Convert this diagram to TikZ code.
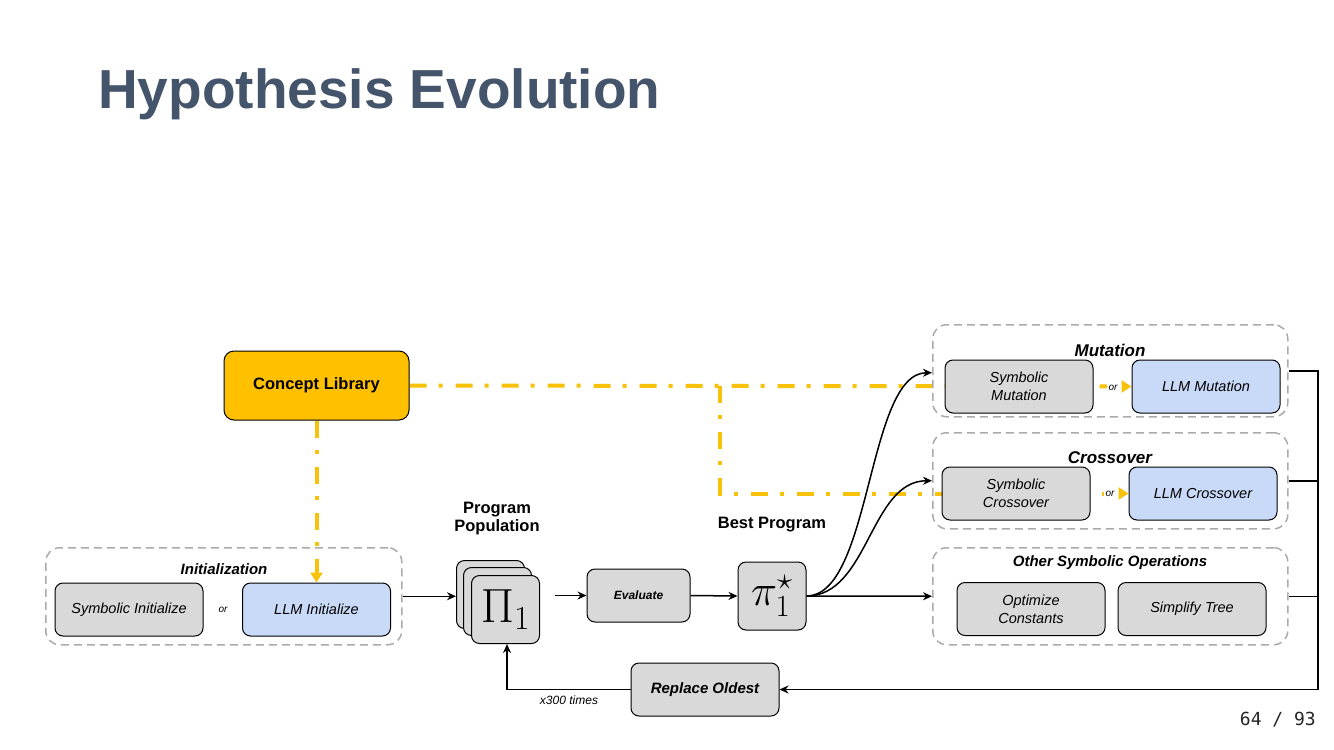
\RequirePackage{fix-cm}
\documentclass[tikz,border=0pt]{standalone}
\usepackage[no-math]{fontspec}
\setmainfont{Liberation Sans}
\newfontfamily\pagenumfont{DejaVu Sans Mono}
\usetikzlibrary{arrows.meta}

\definecolor{titleblue}{HTML}{44546A}
\definecolor{conceptyellow}{HTML}{FFC000}
\definecolor{linkyellow}{HTML}{F8C10A}
\definecolor{boxgray}{HTML}{D9D9D9}
\definecolor{boxblue}{HTML}{C9DAF8}
\definecolor{groupgray}{HTML}{ABABAB}

\pgfdeclarelayer{bg}
\pgfsetlayers{bg,main}

\tikzset{
  opbox/.style={draw=black, line width=1pt, rounded corners=8pt,
    minimum width=148pt, minimum height=53pt, inner sep=0pt, align=center,
    font=\fontsize{14.5}{18}\selectfont\itshape},
  graybox/.style={opbox, fill=boxgray},
  bluebox/.style={opbox, fill=boxblue},
  opgroup/.style={draw=groupgray, line width=1.5pt, dash pattern=on 8pt off 5pt,
    rounded corners=14pt, inner sep=0pt, anchor=north west},
  grouptitle/.style={font=\fontsize{15}{18}\selectfont\bfseries\itshape, inner sep=0pt},
  ortext/.style={font=\fontsize{10}{12}\selectfont\itshape, fill=white, inner sep=2pt},
  flow/.style={line width=1.5pt, -{Stealth[length=9pt,width=8pt]}},
  plainline/.style={line width=1.5pt},
  conceptlink/.style={draw=linkyellow, line width=4pt,
    dash pattern=on 17pt off 12pt on 4pt off 13pt},
  conceptarrow/.style={conceptlink, -{Triangle[length=10pt,width=12pt]}},
  card/.style={draw=black, line width=1pt, fill=boxgray, rounded corners=8pt,
    minimum width=68pt, minimum height=68pt, inner sep=0pt, anchor=north west},
  headtext/.style={font=\fontsize{16.5}{18}\selectfont\bfseries, align=center},
}

\begin{document}
\begin{tikzpicture}[x=1pt,y=-1pt]
  \begin{pgfonlayer}{bg}
    \fill[white] (0,0) rectangle (1334,750);
  \end{pgfonlayer}
  \useasboundingbox (0,0) rectangle (1334,750);

  % slide title and page counter
  \node[anchor=base west, inner sep=0pt, text=titleblue,
        font=\fontsize{55}{60}\selectfont\bfseries] (title) at (98,108) {Hypothesis Evolution};
  \node[anchor=east, inner sep=0pt, text=black!85,
        font=\pagenumfont\fontsize{18}{20}\selectfont] (pagenum) at (1316,720) {64 / 93};

  % concept library
  \node[draw=black, line width=1pt, fill=conceptyellow, rounded corners=10pt,
        minimum width=185pt, minimum height=69pt, inner sep=0pt,
        font=\fontsize{16.5}{18}\selectfont\bfseries] (concept) at (316.5,385.5) {Concept Library};

  % initialization group
  \node[opgroup, minimum width=356pt, minimum height=97pt] (initgrp) at (45,547) {};
  \node[grouptitle] (inittitle) at (224,569) {Initialization};
  \node[graybox] (syminit) at (129,609.5) {Symbolic Initialize};
  \node[bluebox] (llminit) at (316.5,609.5) {LLM Initialize};
  \node[ortext] (orinit) at (223,610) {or};

  % program population
  \node[headtext] (poplabel) at (497,519) {Program\\Population};
  \node[card] (card3) at (456,560) {};
  \node[card] (card2) at (463,567) {};
  \node[card, font=\fontsize{48}{48}\selectfont] (card1) at (471,575) {$\Pi_1$};

  % evaluation and best program
  \node[graybox, minimum width=103pt, font=\fontsize{12}{14}\selectfont\bfseries\itshape]
        (eval) at (638.5,595.5) {Evaluate};
  \node[headtext] (bestlabel) at (772,525) {Best Program};
  \node[graybox, minimum width=68pt, minimum height=68pt, font=\fontsize{44}{44}\selectfont]
        (best) at (772,596) {$\pi_1^{\star}$};

  % mutation group
  \node[opgroup, minimum width=355pt, minimum height=92pt] (mutgrp) at (932,324) {};
  \node[grouptitle, font=\fontsize{17}{18}\selectfont\bfseries\itshape] (muttitle) at (1110,350) {Mutation};
  \node[graybox] (symmut) at (1019,386.5) {Symbolic\\Mutation};
  \node[bluebox] (llmmut) at (1206,386.5) {LLM Mutation};

  % crossover group
  \node[opgroup, minimum width=355pt, minimum height=96pt] (crossgrp) at (932,432) {};
  \node[grouptitle, font=\fontsize{17}{18}\selectfont\bfseries\itshape] (crosstitle) at (1110,458) {Crossover};
  \node[graybox] (symcross) at (1016,493.5) {Symbolic\\Crossover};
  \node[bluebox] (llmcross) at (1203,493.5) {LLM Crossover};

  % other symbolic operations group
  \node[opgroup, minimum width=355pt, minimum height=97pt] (othgrp) at (932,547) {};
  \node[grouptitle] (othtitle) at (1110,563) {Other Symbolic Operations};
  \node[graybox] (optconst) at (1031,609) {Optimize\\Constants};
  \node[graybox] (simptree) at (1192,609) {Simplify Tree};

  % replacement step
  \node[graybox, font=\fontsize{15}{18}\selectfont\bfseries\itshape] (replace) at (705,689.5) {Replace Oldest};
  \node[font=\fontsize{12}{14}\selectfont\itshape, inner sep=0pt] (times) at (569,700) {x300 times};

  % concept library links, drawn behind the boxes
  \coordinate (split) at (720,386);
  \coordinate (rail) at (1318,689.5);
  \begin{pgfonlayer}{bg}
    \draw[conceptarrow] (concept.south) -- (llminit.north);
    \draw[conceptarrow] (concept.east) -- (llmmut.west);
    \draw[conceptarrow] (split) |- (llmcross.west);
  \end{pgfonlayer}
  \node[ortext] (ormut) at (1113,388) {or};
  \node[ortext] (orcross) at (1110,494) {or};

  % main flow
  \draw[flow] (initgrp.east) -- (initgrp.east -| card3.west);
  \draw[flow] ([xshift=15pt]card1.east |- eval.west) -- (eval.west);
  \draw[flow] (eval.east) -- (best.west);
  \draw[flow] (best.east) .. controls +(65,0) and +(-65,0) .. ([yshift=-2pt]mutgrp.west);
  \draw[flow] (best.east) .. controls +(62,0) and +(-62,0) .. (crossgrp.west);
  \draw[flow] (best.east) -- (othgrp.west);

  % feedback loop
  \draw[plainline] (mutgrp.east) -| (rail);
  \draw[plainline] (crossgrp.east) -- (crossgrp.east -| rail);
  \draw[plainline] (othgrp.east) -- (othgrp.east -| rail);
  \draw[flow] (rail) -- (replace.east);
  \draw[flow] (replace.west) -| ([xshift=1.5pt]card1.south);
\end{tikzpicture}
\end{document}
